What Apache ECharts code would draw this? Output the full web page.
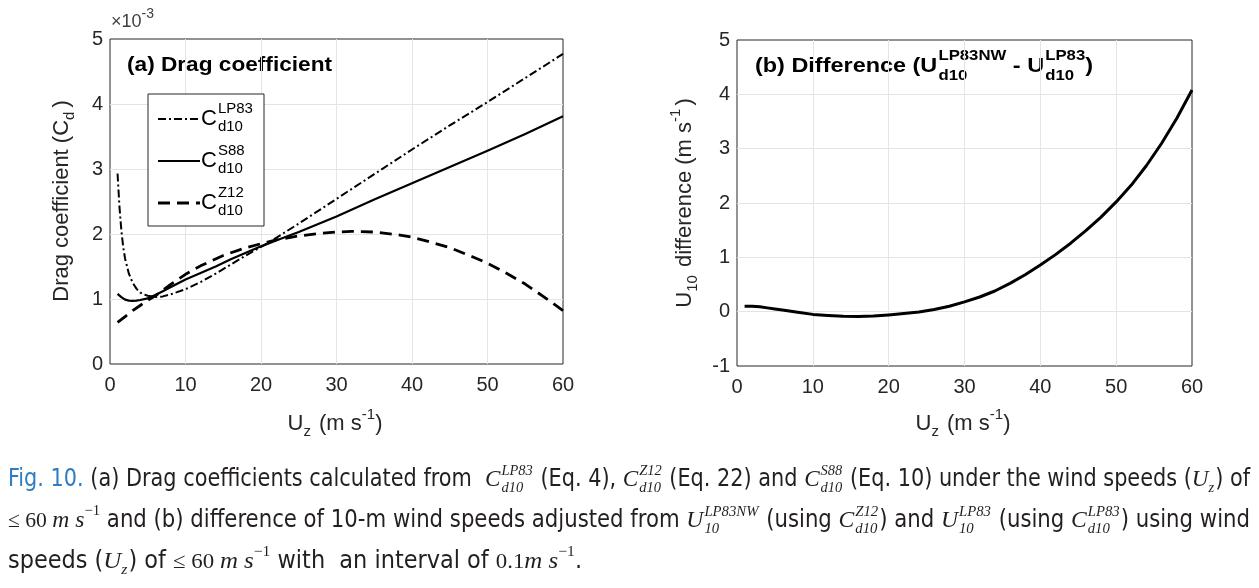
<!DOCTYPE html>
<html><head><meta charset="utf-8">
<script src="https://cdn.jsdelivr.net/npm/echarts@6/dist/echarts.min.js"></script>
<style>html,body{margin:0;padding:0;background:#fff}#c{width:1259px;height:588px}</style>
</head><body><div id="c"></div>
<script>
// ---------- data (panel a values in units of 10^-3) ----------
const xTicks = [0, 10, 20, 30, 40, 50, 60];
const uLP83 = [1,1.25,1.5,1.75,2,2.5,3,3.5,4,4.5,5,6,7,8,10,12,14,16,18,20,22,25,30,35,40,45,50,55,60];
const cdLP83 = [2.93,2.42,2.06,1.80,1.62,1.39,1.25,1.16,1.10,1.07,1.05,1.03,1.04,1.07,1.15,1.26,1.39,1.53,1.67,1.80,1.94,2.16,2.54,2.92,3.30,3.67,4.03,4.40,4.77];
const uS88 = [1,1.5,2,2.5,3,3.5,4,5,6,7,8,10,12,14,16,18,20,22,25,30,35,40,45,50,55,60];
const cdS88 = [1.08,1.03,0.99,0.975,0.97,0.975,0.985,1.01,1.06,1.12,1.18,1.30,1.40,1.50,1.61,1.71,1.81,1.90,2.03,2.27,2.53,2.78,3.03,3.28,3.54,3.81];
const uZ12 = [1,2,3,4,5,6,8,10,12,15,18,20,22,25,28,30,32,35,38,40,42,45,48,50,52,55,58,60];
const cdZ12 = [0.64,0.73,0.82,0.90,0.98,1.05,1.22,1.38,1.51,1.67,1.79,1.85,1.91,1.97,2.01,2.03,2.04,2.03,1.99,1.95,1.89,1.79,1.65,1.55,1.43,1.23,0.99,0.82];
const uDiff = [1,2,3,4,5,6,8,10,12,14,16,18,20,22,24,26,28,30,32,34,36,38,40,42,44,46,48,50,52,54,56,58,60];
const dU10 = [0.10,0.10,0.09,0.07,0.05,0.03,-0.01,-0.05,-0.07,-0.085,-0.09,-0.08,-0.06,-0.035,-0.005,0.04,0.10,0.18,0.27,0.38,0.52,0.68,0.86,1.05,1.26,1.49,1.74,2.02,2.33,2.69,3.10,3.56,4.08];

const pairs = (xs, ys) => xs.map((x, i) => [x, ys[i]]);

// ---------- text layout helpers ----------
const SANS = '"Liberation Sans", Arial, Helvetica, sans-serif';
const NARROW = '"Liberation Sans Narrow", "DejaVu Sans Condensed", "Arial Narrow", sans-serif';
const SERIF = '"Liberation Serif", "DejaVu Serif", serif';
const GRAY = '#262626';
const ctx = document.createElement('canvas').getContext('2d');
function fontStr(p) { return (p.st || 'normal') + ' ' + (p.w || 'normal') + ' ' + p.s + 'px ' + p.f; }
function tw(text, p) { ctx.font = fontStr(p); return ctx.measureText(text).width; }
function layout(parts) {
  let x = 0; const items = [];
  parts.forEach(p => {
    if (p.t !== undefined) {
      items.push({ text: p.t, x: x, y: p.dy || 0, p });
      x += tw(p.t, p);
    } else {
      const x0 = x + (p.pre || 0);
      const w1 = p.sup ? tw(p.sup, p) : 0;
      const w2 = p.sub ? tw(p.sub, p) : 0;
      if (p.sup) items.push({ text: p.sup, x: x0, y: p.dsup, p });
      if (p.sub) items.push({ text: p.sub, x: x0 + (p.subShift || 0), y: p.dsub, p });
      x = x0 + Math.max(w1, w2 + (p.subShift || 0)) + (p.post || 0);
    }
  });
  return { items, width: x };
}
function textGroup(parts, opt) {
  const L = layout(parts);
  const sx = opt.targetWidth ? opt.targetWidth / L.width : 1;
  const off = opt.anchor === 'center' ? -L.width / 2 : 0;
  const children = L.items.map(it => ({
    type: 'text', silent: true,
    style: { text: it.text, x: it.x + off, y: it.y, font: fontStr(it.p), fill: it.p.c || GRAY,
      textAlign: 'left', textVerticalAlign: 'middle', align: 'left', verticalAlign: 'middle' }
  }));
  return { type: 'group', x: opt.x, y: opt.y, rotation: opt.rotation || 0, scaleX: sx, scaleY: 1, children };
}

// chart text
const big = { s: 22, f: SANS, c: GRAY };
const small = { s: 15, f: SANS, c: GRAY };
const T = (t, base, extra) => Object.assign({ t }, base, extra || {});
const S = (o, base) => Object.assign({}, base, o);

const graphics = [];
// x10^-3
graphics.push(textGroup([T('\u00d710', { s: 18, f: SANS, c: '#404040' }), S({ sup: '-3', dsup: -8 }, { s: 14, f: SANS, c: '#404040' })], { x: 111, y: 22 }));
// titles
graphics.push(textGroup([T('(a) Drag coefficient', { s: 20, f: SANS, w: 'bold', c: '#000' })], { x: 127, y: 65, targetWidth: 205 }));
const tb = { s: 21, f: SANS, w: 'bold', c: '#000' }, tbs = { s: 15, f: SANS, w: 'bold', c: '#000' };
graphics.push(textGroup([T('(b) Difference (U', tb), S({ sup: 'LP83NW', sub: 'd10', dsup: -10, dsub: 10, pre: 1 }, tbs),
  T(' - U', tb), S({ sup: 'LP83', sub: 'd10', dsup: -10, dsub: 10, pre: 1 }, tbs), T(')', tb)], { x: 755, y: 66, targetWidth: 338 }));
// axis names
graphics.push(textGroup([T('Drag coefficient (C', big), S({ sub: 'd', dsub: 8, post: 4 }, small), T(')', big)], { x: 62, y: 201, anchor: 'center', rotation: Math.PI / 2 }));
graphics.push(textGroup([T('U', big), S({ sub: 'z', dsub: 8, post: 2 }, small), T(' (m s', big), S({ sup: '-1', dsup: -9 }, small), T(')', big)], { x: 335, y: 424, anchor: 'center' }));
graphics.push(textGroup([T('U', big), S({ sub: '10', dsub: 8, post: 2 }, small), T(' difference (m s', big), S({ sup: '-1', dsup: -9, post: 3 }, small), T(')', big)], { x: 685, y: 203, anchor: 'center', rotation: Math.PI / 2 }));
graphics.push(textGroup([T('U', big), S({ sub: 'z', dsub: 8, post: 2 }, small), T(' (m s', big), S({ sup: '-1', dsup: -9 }, small), T(')', big)], { x: 963, y: 424, anchor: 'center' }));

// legend (panel a)
const legendNames = ['LP83', 'S88', 'Z12'];
const legendDash = [[8, 3, 2, 3], null, [12, 7]];
const legendY = [119, 161, 203];
graphics.push({ type: 'rect', shape: { x: 148, y: 94, width: 116, height: 132 }, style: { fill: '#fff', stroke: GRAY, lineWidth: 1 }, z: 10 });
legendNames.forEach((n, i) => {
  graphics.push({ type: 'line', z: 11, shape: { x1: 158, y1: legendY[i], x2: 200, y2: legendY[i] },
    style: { stroke: '#000', lineWidth: i === 2 ? 2.8 : 2, lineDash: legendDash[i] || null } });
  const g = textGroup([T('C', { s: 22, f: SANS, c: '#000' }), S({ sup: n, sub: 'd10', dsup: -10, dsub: 8, pre: 1 }, { s: 15, f: SANS, c: '#000' })], { x: 201, y: legendY[i] });
  g.z = 11; g.children.forEach(c => c.z = 11);
  graphics.push(g);
});

// caption
const BLUE = '#2f7cc0', INK = '#231f20';
const cb = { s: 24, f: NARROW, c: INK };
const cm = { s: 24, f: SERIF, st: 'italic', c: INK };
const cmu = { s: 22, f: SERIF, c: INK };
const cms = { s: 15, f: SERIF, st: 'italic', c: INK };
const cmsu = { s: 15, f: SERIF, c: INK };
const SS = (sup, sub) => S({ sup, sub, dsup: -9, dsub: 8, pre: 1, post: 1 }, cms);
const line1 = [T('Fig. 10.', cb, { c: BLUE }), T(' (a) Drag coefficients calculated from  ', cb), T('C', cm), SS('LP83', 'd10'),
  T(' (Eq. 4), ', cb), T('C', cm), SS('Z12', 'd10'), T(' (Eq. 22) and ', cb), T('C', cm), SS('S88', 'd10'),
  T(' (Eq. 10) under the wind speeds (', cb), T('U', cm), S({ sub: 'z', dsub: 8, post: 1 }, cms), T(') of', cb)];
const line2 = [T('\u2264 60 ', cmu), T('m s', cm), S({ sup: '\u22121', dsup: -10 }, cmsu),
  T(' and (b) difference of 10-m wind speeds adjusted from ', cb), T('U', cm), SS('LP83NW', '10'),
  T(' (using ', cb), T('C', cm), SS('Z12', 'd10'), T(') and ', cb), T('U', cm), SS('LP83', '10'),
  T(' (using ', cb), T('C', cm), SS('LP83', 'd10'), T(') using wind', cb)];
const line3 = [T('speeds (', cb), T('U', cm), S({ sub: 'z', dsub: 8, post: 1 }, cms), T(') of ', cb), T('\u2264 60 ', cmu), T('m s', cm),
  S({ sup: '\u22121', dsup: -10 }, cmsu), T(' with  an interval of ', cb), T('0.1', cmu), T('m s', cm), S({ sup: '\u22121', dsup: -10 }, cmsu), T('.', cb)];
graphics.push(textGroup(line1, { x: 8, y: 480, targetWidth: 1242 }));
graphics.push(textGroup(line2, { x: 8, y: 521, targetWidth: 1242 }));
graphics.push(textGroup(line3, { x: 8, y: 562, targetWidth: 574 }));

// ---------- chart ----------
const chart = echarts.init(document.getElementById('c'), null, { renderer: 'canvas' });
const lbl = { color: GRAY, fontSize: 20, fontFamily: SANS };
const split = { show: true, showMinLine: false, showMaxLine: false, lineStyle: { color: '#e4e4e4', width: 1 } };
function xAx(gi) {
  return { type: 'value', gridIndex: gi, min: xTicks[0], max: xTicks[xTicks.length - 1], interval: 10,
    axisLine: { show: false }, axisTick: { show: false }, splitLine: split, axisLabel: Object.assign({ margin: 11 }, lbl) };
}
function yAx(gi, min, max) {
  return { type: 'value', gridIndex: gi, min, max, interval: 1,
    axisLine: { show: false }, axisTick: { show: false }, splitLine: split, axisLabel: Object.assign({ margin: 7 }, lbl) };
}
const lineBase = { type: 'line', showSymbol: false, symbol: 'none', smooth: false, silent: true };
chart.setOption({
  animation: false,
  backgroundColor: '#fff',
  grid: [
    { left: 110, top: 39, width: 453, height: 325, show: true, borderColor: GRAY, borderWidth: 1, backgroundColor: 'transparent' },
    { left: 737, top: 40, width: 455, height: 326, show: true, borderColor: GRAY, borderWidth: 1, backgroundColor: 'transparent' }
  ],
  xAxis: [xAx(0), xAx(1)],
  yAxis: [yAx(0, 0, 5), yAx(1, -1, 5)],
  series: [
    Object.assign({}, lineBase, { name: 'LP83', xAxisIndex: 0, yAxisIndex: 0, data: pairs(uLP83, cdLP83), lineStyle: { color: '#000', width: 2, type: [8, 3, 2, 3], join: 'round' } }),
    Object.assign({}, lineBase, { name: 'S88', xAxisIndex: 0, yAxisIndex: 0, data: pairs(uS88, cdS88), lineStyle: { color: '#000', width: 2.2, type: 'solid', join: 'round' } }),
    Object.assign({}, lineBase, { name: 'Z12', xAxisIndex: 0, yAxisIndex: 0, data: pairs(uZ12, cdZ12), lineStyle: { color: '#000', width: 2.8, type: [12, 7], join: 'round' } }),
    Object.assign({}, lineBase, { name: 'diff', xAxisIndex: 1, yAxisIndex: 1, data: pairs(uDiff, dU10), lineStyle: { color: '#000', width: 3, type: 'solid', join: 'round' } })
  ],
  graphic: graphics
});
</script></body></html>
